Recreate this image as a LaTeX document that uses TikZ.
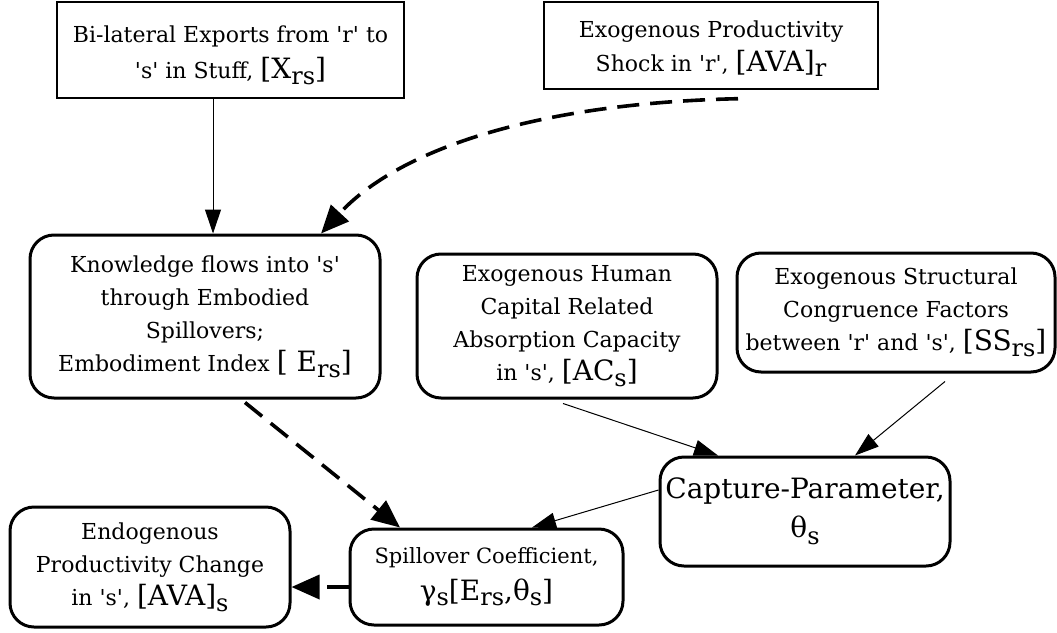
\documentclass[tikz,border=0pt]{standalone}
\usepackage{fontspec}
\setmainfont{DejaVu Serif}
\usetikzlibrary{arrows.meta,calc}
\newcommand\q[1]{\textquotesingle#1\textquotesingle}
\newcommand\bg[1]{{\fontsize{28}{28}\selectfont #1}}
\newcommand\sbs[1]{\raisebox{-0.5ex}{{\fontsize{24}{24}\selectfont #1}}}
\tikzset{
  thinbox/.style={draw, line width=1.4pt, rectangle, inner sep=0pt, align=center,
    font=\fontsize{22}{36}\selectfont},
  roundbox/.style={draw, line width=3pt, rectangle, rounded corners=24pt, inner sep=0pt, align=center,
    font=\fontsize{22}{33}\selectfont},
  thinarrow/.style={line width=1pt, -{Triangle[length=24pt,width=16pt]}},
  thickdash/.style={line width=3.6pt, dash pattern=on 22pt off 11pt, -{Triangle[length=28pt,width=24pt]}},
}
\begin{document}
\begin{tikzpicture}[x=1pt,y=-1pt]
\useasboundingbox (0,0) rectangle (1057,632);
\node[thinbox, minimum width=347pt, minimum height=96pt] (A) at (230.5,50)
  {\rule{0pt}{28pt}Bi-lateral Exports from \q{r} to\\ \q{s} in Stuff, \bg{[X}\sbs{rs}\bg{]}};
\node[thinbox, minimum width=334pt, minimum height=87pt, font=\fontsize{22}{34}\selectfont] (B) at (711,45.5)
  {\rule{0pt}{23pt}Exogenous Productivity\\ Shock in \q{r}, \bg{[AVA]}\sbs{r}};
\node[roundbox, minimum width=350pt, minimum height=163pt] (C) at (205,316.5)
  {Knowledge flows into \q{s}\\ through Embodied\\ Spillovers;\\ Embodiment Index \bg{[ E}\sbs{rs}\bg{]}};
\node[roundbox, minimum width=300pt, minimum height=144pt] (D) at (567,326)
  {Exogenous Human\\ Capital Related\\ Absorption Capacity\\ in \q{s}, \bg{[AC}\sbs{s}\bg{]}};
\node[roundbox, minimum width=318pt, minimum height=119pt] (E) at (896,312.5)
  {Exogenous Structural\\ Congruence Factors\\ between \q{r} and \q{s}, \bg{[SS}\sbs{rs}\bg{]}};
\node[roundbox, minimum width=290pt, minimum height=109pt, font=\fontsize{28}{39}\selectfont] (F) at (805,511.5)
  {Capture-Parameter,\\ \bg{θ}\sbs{s}};
\node[roundbox, minimum width=273pt, minimum height=96pt, font=\fontsize{21}{37}\selectfont] (G) at (486.5,577)
  {Spillover Coefficient,\\ \bg{γ}\sbs{s}\bg{[E}\sbs{rs}\bg{,θ}\sbs{s}\bg{]}};
\node[roundbox, minimum width=280pt, minimum height=120pt] (H) at (150,567)
  {Endogenous\\ Productivity Change\\ in \q{s}, \bg{[AVA]}\sbs{s}};
% connectors
\draw[thinarrow] (A.south -| 213,0) -- (C.north -| 213,0);
\draw[thickdash] ([yshift=-9pt]B.south -| 738,0) .. controls (540,103) and (400,148) .. (C.north -| 321,0);
\draw[thickdash] ([yshift=-3pt]C.south -| 245,0) -- (G.north -| 400,0);
\draw[thinarrow] ([yshift=-4pt]D.south -| 563,0) -- (F.north -| 718,0);
\draw[thinarrow] ([yshift=-8pt]E.south -| 945,0) -- (F.north -| 855,0);
\draw[thinarrow] (F.west |- 0,490) -- (G.north -| 532,0);
\draw[thickdash] (G.west |- 0,587) -- (H.east |- 0,587);
\end{tikzpicture}
\end{document}
